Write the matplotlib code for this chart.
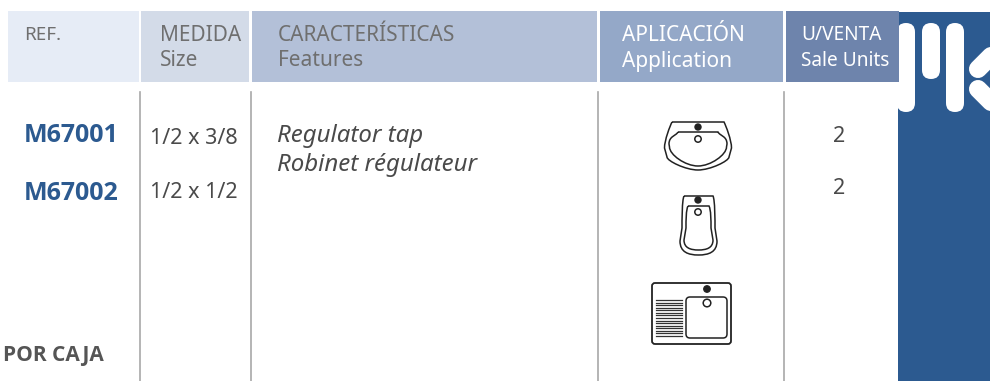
#!/usr/bin/env python3
"""Product table header and icons, drawn in pixel coordinates."""

import matplotlib
matplotlib.use("Agg")
import matplotlib.pyplot as plt
from matplotlib.patches import Rectangle, FancyBboxPatch, Circle, PathPatch
from matplotlib.path import Path

FONT = "Noto Sans"
BOLD_FONT = "Open Sans"
INK = "#4a4a4a"
GREY = "#6f6f6f"
BLUE = "#2c5a90"
LINE = "#222222"

# header cells
HEAD_X = [8, 141, 252, 600, 786]
HEAD_W = [131, 108, 345, 183, 113]
HEAD_COLORS = ["#e6ecf6", "#d3dbe8", "#b3c0d8", "#94a8c8", "#6e84ac"]
HEAD_TOP = ["REF.", "MEDIDA", "CARACTERÍSTICAS", "APLICACIÓN", "U/VENTA"]
HEAD_BOT = ["", "Size", "Features", "Application", "Sale Units"]
HEAD_TEXT_X = [24, 160, 278, 622, 801]
HEAD_TEXT_COLORS = [GREY, GREY, GREY, "white", "white"]
HEAD_SIZES = [13.5, 15, 15, 15, 13.7]

# table rows
REFS = ["M67001", "M67002"]
REF_Y = [136, 193]
SIZES = ["1/2 x 3/8", "1/2 x 1/2"]
SIZE_Y = [138, 192]
UNITS = ["2", "2"]
UNIT_Y = [136, 189]
FEATURES = ["Regulator tap", "Robinet régulateur"]
FEATURE_Y = [136, 165]

# column rules
RULE_X = [140, 250.5, 598, 784]


def rounded(ax, x, y, w, h, r, **kw):
    ax.add_patch(FancyBboxPatch((x + r, y + r), w - 2 * r, h - 2 * r,
                                boxstyle=f"round,pad={r},rounding_size={r}", **kw))


def bowl(ax, cx, top, half_top, half_mid, mid_y, low_half, low_y, bottom, a, b):
    """Closed symmetric outline: flat top, flaring sides, rounded bottom."""
    right = [(cx + half_top, top),
             (cx + half_top + 2, top + 4), (cx + half_mid, mid_y - 8), (cx + half_mid, mid_y),
             (cx + low_half, low_y),
             (cx + low_half, low_y + (bottom - low_y) * a), (cx + low_half * b, bottom), (cx, bottom)]
    left = [(2 * cx - x, y) for x, y in reversed(right[:-1])]
    verts = [(cx - half_top, top)] + right + left[:-1] + [(cx - half_top, top)]
    codes = [Path.MOVETO, Path.LINETO, Path.CURVE4, Path.CURVE4, Path.CURVE4, Path.LINETO,
             Path.CURVE4, Path.CURVE4, Path.CURVE4,
             Path.CURVE4, Path.CURVE4, Path.CURVE4, Path.LINETO,
             Path.CURVE4, Path.CURVE4, Path.CURVE4]
    verts = verts[:len(codes)]
    ax.add_patch(PathPatch(Path(verts, codes), fc="none", ec=LINE, lw=1.1))


def draw_basin(ax):
    bowl(ax, 698, 122, 26, 33.5, 148, 31, 157, 170, 0.3, 0.4)
    bowl(ax, 698, 132, 20, 29, 144, 28.5, 147, 166, 0.4, 0.45)
    ax.add_patch(Circle((698, 127), 3, color=LINE))
    ax.add_patch(Circle((698, 139), 3.2, fc="white", ec=LINE, lw=1.1))


def draw_bidet(ax):
    bowl(ax, 698.5, 196, 14.5, 16.5, 228, 18.5, 241, 255, 0.8, 0.55)
    bowl(ax, 698.5, 206, 10.5, 12.5, 228, 14.5, 240, 250, 0.8, 0.55)
    ax.add_patch(Circle((698, 200), 3, color=LINE))
    ax.add_patch(Circle((698, 212), 3.2, fc="white", ec=LINE, lw=1.1))


def draw_sink(ax):
    rounded(ax, 652, 283, 79, 61, 3, fc="white", ec=LINE, lw=1.3)
    rounded(ax, 686, 297, 41, 41, 4, fc="white", ec=LINE, lw=1.1)
    ax.add_patch(Circle((707, 289), 3.2, color=LINE))
    ax.add_patch(Circle((707, 303), 3.8, fc="white", ec=LINE, lw=1.1))
    for i in range(15):
        y = 300 + i * 2.57
        ax.plot([656, 682], [y, y], color="#333333", lw=0.9)


def draw_logo(ax):
    ax.add_patch(Rectangle((898, 12), 92, 369, color=BLUE, lw=0))
    for x, w, bottom in [(897, 18, 112), (922, 18, 79), (946, 18, 112)]:
        rounded(ax, x, 23, w, bottom - 23, w / 2, fc="white", ec="none", lw=0)
    ax.plot([978, 1000], [69, 47], color="white", lw=13, solid_capstyle="round")
    ax.plot([978, 1000], [89, 111], color="white", lw=13, solid_capstyle="round")


def main():
    fig = plt.figure(figsize=(9.9, 3.81), dpi=100)
    ax = fig.add_axes([0, 0, 1, 1])
    ax.set_xlim(0, 990)
    ax.set_ylim(381, 0)
    ax.axis("off")

    draw_logo(ax)
    for x, w, c in zip(HEAD_X, HEAD_W, HEAD_COLORS):
        ax.add_patch(Rectangle((x, 11), w, 71, color=c, lw=0))
    for top, bot, tx, tc, fs in zip(HEAD_TOP, HEAD_BOT, HEAD_TEXT_X, HEAD_TEXT_COLORS, HEAD_SIZES):
        ax.text(tx, 35.5, top, color=tc, fontsize=fs, family=FONT, va="center")
        if bot:
            ax.text(tx, 61, bot, color=tc, fontsize=fs, family=FONT, va="center")

    for x in RULE_X:
        ax.plot([x, x], [92, 381], color="#a8a8a8", lw=1.2)

    for y, ref in zip(REF_Y, REFS):
        ax.text(24, y, ref, color=BLUE, fontsize=18, fontweight="bold", family=BOLD_FONT, va="center")
    for y, size in zip(SIZE_Y, SIZES):
        ax.text(150, y, size, color=INK, fontsize=15.5, family=FONT, va="center")
    for y, unit in zip(UNIT_Y, UNITS):
        ax.text(839, y, unit, color=INK, fontsize=15.5, family=FONT, va="center", ha="center")
    for y, line in zip(FEATURE_Y, FEATURES):
        ax.text(277, y, line, color=INK, fontsize=17.3, style="italic", family=FONT, va="center")
    ax.text(3, 355, "POR CAJA", color="#555555", fontsize=15, fontweight="bold",
            family=BOLD_FONT, va="center")

    draw_basin(ax)
    draw_bidet(ax)
    draw_sink(ax)

    fig.savefig("out.png", dpi=100)
    plt.close(fig)


if __name__ == "__main__":
    main()
